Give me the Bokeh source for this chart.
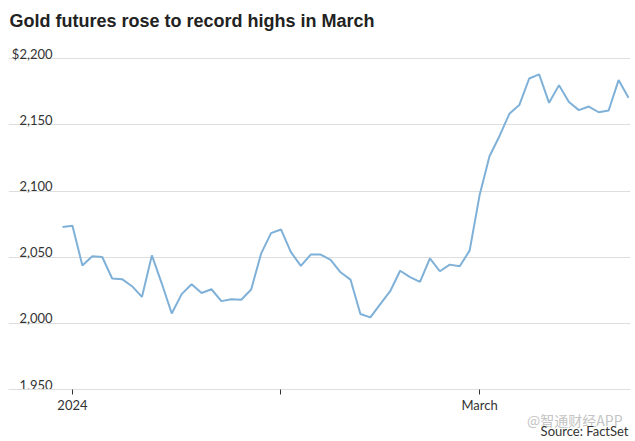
from bokeh.plotting import figure
from bokeh.models import FixedTicker, Range1d, Title
from bokeh.core.properties import value
from bokeh.embed import file_html
from bokeh.resources import INLINE

# ---- data ----
dates = [
    "2023-12-29",
    "2024-01-02", "2024-01-03", "2024-01-04", "2024-01-05", "2024-01-08", "2024-01-09",
    "2024-01-10", "2024-01-11", "2024-01-12", "2024-01-16", "2024-01-17", "2024-01-18",
    "2024-01-19", "2024-01-22", "2024-01-23", "2024-01-24", "2024-01-25", "2024-01-26",
    "2024-01-29", "2024-01-30", "2024-01-31",
    "2024-02-01", "2024-02-02", "2024-02-05", "2024-02-06", "2024-02-07", "2024-02-08",
    "2024-02-09", "2024-02-12", "2024-02-13", "2024-02-14", "2024-02-15", "2024-02-16",
    "2024-02-20", "2024-02-21", "2024-02-22", "2024-02-23", "2024-02-26", "2024-02-27",
    "2024-02-28", "2024-02-29",
    "2024-03-01", "2024-03-04", "2024-03-05", "2024-03-06", "2024-03-07", "2024-03-08",
    "2024-03-11", "2024-03-12", "2024-03-13", "2024-03-14", "2024-03-15", "2024-03-18",
    "2024-03-19", "2024-03-20", "2024-03-21", "2024-03-22",
]
prices = [
    2072.8,
    2073.8, 2043.7, 2050.7, 2050.2, 2033.9, 2033.4, 2028.1, 2020.0, 2051.4, 2030.1,
    2007.5, 2022.1, 2029.6, 2023.0, 2025.8, 2016.8, 2018.3, 2017.8, 2025.6, 2052.7,
    2068.2,
    2071.0, 2053.9, 2043.4, 2052.0, 2052.0, 2048.0, 2038.6, 2033.1, 2007.1, 2004.5,
    2014.6, 2024.3, 2039.8, 2034.9, 2031.3, 2049.2, 2039.4, 2044.4, 2043.2, 2055.0,
    2096.8, 2126.3, 2141.5, 2158.4, 2165.0, 2185.1, 2188.2, 2166.7, 2180.1, 2167.4,
    2161.2, 2163.9, 2159.6, 2160.9, 2183.9, 2170.5,
]
y_ticks = [1950, 2000, 2050, 2100, 2150, 2200]
y_tick_labels = ["1,950", "2,000", "2,050", "2,100", "2,150", "$2,200"]
x_tick_dates = ["2024-01-02", "2024-02-01", "2024-03-01"]
x_tick_labels = ["2024", "", "March"]

title_text = "Gold futures rose to record highs in March"
source_text = "Source: FactSet"
watermark_text = "@智通财经APP"

# ---- figure ----
idx = list(range(len(dates)))
tick_idx = [dates.index(d) for d in x_tick_dates]
x_start, x_end = -5.44, 57.2

p = figure(width=635, height=441, output_backend="svg", toolbar_location=None,
           x_range=Range1d(x_start, x_end), y_range=Range1d(1950, 2214.6),
           y_axis_location=None,
           min_border_left=8, min_border_right=5, min_border_top=38, min_border_bottom=52)
p.outline_line_color = None
p.background_fill_color = "white"

p.xgrid.visible = False
p.ygrid.ticker = FixedTicker(ticks=y_ticks)
p.ygrid.grid_line_color = "#dedede"
p.ygrid.grid_line_width = 1

ax = p.xaxis[0]
ax.ticker = FixedTicker(ticks=tick_idx)
ax.major_label_overrides = {i: lab for i, lab in zip(tick_idx, x_tick_labels)}
ax.axis_line_color = "#dedede"
ax.major_tick_line_color = "#333333"
ax.major_tick_in = 0
ax.major_tick_out = 5
ax.minor_tick_line_color = None
ax.major_label_text_font = "Lato"
ax.major_label_text_font_size = "13px"
ax.major_label_text_color = "#333333"
ax.major_label_standoff = 2

# y tick labels above gridlines
p.text(x=[x_start] * len(y_ticks), y=y_ticks, text=y_tick_labels,
       x_offset=44, y_offset=-5, text_align="right", text_baseline="alphabetic",
       text_font=value("Lato"), text_font_size="13px", text_color="#333333")

p.line(idx, prices, line_color="#7fb1d8", line_width=2)

p.add_layout(Title(text=title_text, align="left", text_font="Liberation Sans",
                   text_font_size="18px", text_font_style="bold", text_color="#222222",
                   offset=1, standoff=17), "above")
p.add_layout(Title(text=watermark_text, align="right", text_font="Noto Sans CJK SC",
                   text_font_size="14px", text_font_style="normal", text_color="#c4c4c4",
                   offset=8, standoff=-15), "below")
p.add_layout(Title(text=source_text, align="right", text_font="Lato",
                   text_font_size="13px", text_font_style="normal", text_color="#333333",
                   offset=2, standoff=-4), "below")

open("out.html", "w").write(file_html(p, INLINE))
